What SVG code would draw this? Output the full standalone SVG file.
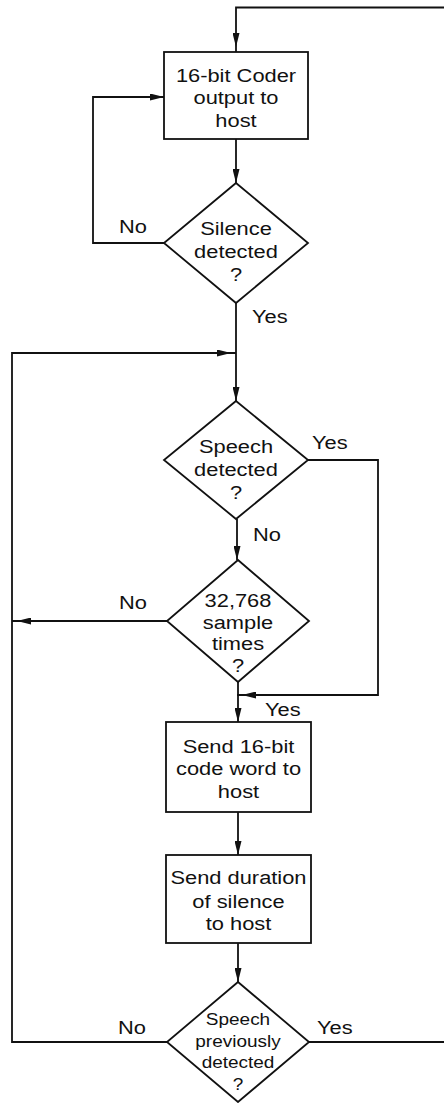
<svg xmlns="http://www.w3.org/2000/svg" width="444" height="1103" viewBox="0 0 444 1103">
<defs>
<style>
.shape{fill:#fff;stroke:#111;stroke-width:1.8}
.conn{fill:none;stroke:#111;stroke-width:1.8}
.t{font-family:"Liberation Sans",Arial,sans-serif;font-size:19px;fill:#111;text-anchor:middle}
.ts{font-family:"Liberation Sans",Arial,sans-serif;font-size:16.5px;fill:#111;text-anchor:middle}
.lbl{font-family:"Liberation Sans",Arial,sans-serif;font-size:19px;fill:#111}
</style>
<marker id="arr" markerWidth="14" markerHeight="7" refX="14" refY="3.5" orient="auto" markerUnits="userSpaceOnUse">
<path d="M0,0 L14,3.5 L0,7 z" fill="#111"/>
</marker>
<marker id="arrGap" markerWidth="14" markerHeight="7" refX="19" refY="3.5" orient="auto" markerUnits="userSpaceOnUse">
<path d="M0,0 L14,3.5 L0,7 z" fill="#111"/>
</marker>
</defs>
<rect width="444" height="1103" fill="#fff"/>

<g id="connectors">
<path class="conn" d="M444,7.5 H236 V52" marker-end="url(#arrGap)"/>
<path class="conn" d="M236,139 V183" marker-end="url(#arr)"/>
<path class="conn" d="M164,243 H93 V97 H164" marker-end="url(#arr)"/>
<path class="conn" d="M236,303 V401" marker-end="url(#arr)"/>
<path class="conn" d="M167,1042 H12 V353 H236" marker-end="url(#arrGap)"/>
<path class="conn" d="M308,460 H378 V695 H237" marker-end="url(#arrGap)"/>
<path class="conn" d="M237,519 V560" marker-end="url(#arr)"/>
<path class="conn" d="M167,621 H12" marker-end="url(#arrGap)"/>
<path class="conn" d="M238,682 V722" marker-end="url(#arr)"/>
<path class="conn" d="M238,812 V855" marker-end="url(#arr)"/>
<path class="conn" d="M238,943 V982" marker-end="url(#arr)"/>
<path class="conn" d="M309,1042 H444"/>
<g id="labels">
<text class="lbl" transform="translate(119,233) scale(1.15,1)">No</text>
<text class="lbl" transform="translate(252,323) scale(1.15,1)">Yes</text>
<text class="lbl" transform="translate(312,449) scale(1.15,1)">Yes</text>
<text class="lbl" transform="translate(253,541) scale(1.15,1)">No</text>
<text class="lbl" transform="translate(119,609) scale(1.15,1)">No</text>
<text class="lbl" transform="translate(265,716) scale(1.15,1)">Yes</text>
<text class="lbl" transform="translate(118,1034) scale(1.15,1)">No</text>
<text class="lbl" transform="translate(317,1034) scale(1.15,1)">Yes</text>
</g>
</g>

<g id="coder-output">
<rect class="shape" x="164" y="52" width="144" height="87"/>
<text class="t" transform="translate(236,0) scale(1.15,1)"><tspan x="0" y="82">16-bit Coder</tspan><tspan x="0" y="104.5">output to</tspan><tspan x="0" y="127">host</tspan></text>
</g>

<g id="silence-detected">
<polygon class="shape" points="236,183 308,243 236,303 164,243"/>
<text class="t" transform="translate(236,0) scale(1.15,1)"><tspan x="0" y="235">Silence</tspan><tspan x="0" y="258">detected</tspan><tspan x="0" y="281">?</tspan></text>
</g>

<g id="speech-detected">
<polygon class="shape" points="236,401 308,460 236,519 164,460"/>
<text class="t" transform="translate(236,0) scale(1.15,1)"><tspan x="0" y="453">Speech</tspan><tspan x="0" y="476">detected</tspan><tspan x="0" y="499">?</tspan></text>
</g>

<g id="sample-times">
<polygon class="shape" points="238,560 309,621 238,682 167,621"/>
<text class="t" transform="translate(238,0) scale(1.15,1)"><tspan x="0" y="607">32,768</tspan><tspan x="0" y="629">sample</tspan><tspan x="0" y="650">times</tspan><tspan x="0" y="672">?</tspan></text>
</g>

<g id="send-code-word">
<rect class="shape" x="166" y="722" width="145" height="90"/>
<text class="t" transform="translate(238.5,0) scale(1.15,1)"><tspan x="0" y="753">Send 16-bit</tspan><tspan x="0" y="775">code word to</tspan><tspan x="0" y="798">host</tspan></text>
</g>

<g id="send-duration">
<rect class="shape" x="166" y="855" width="145" height="88"/>
<text class="t" transform="translate(238.5,0) scale(1.15,1)"><tspan x="0" y="884">Send duration</tspan><tspan x="0" y="908">of silence</tspan><tspan x="0" y="930">to host</tspan></text>
</g>

<g id="speech-previously">
<polygon class="shape" points="238,982 309,1042 238,1102 167,1042"/>
<text class="ts" transform="translate(238,0) scale(1.15,1)"><tspan x="0" y="1025">Speech</tspan><tspan x="0" y="1047">previously</tspan><tspan x="0" y="1068">detected</tspan><tspan x="0" y="1090">?</tspan></text>
</g>
</svg>
